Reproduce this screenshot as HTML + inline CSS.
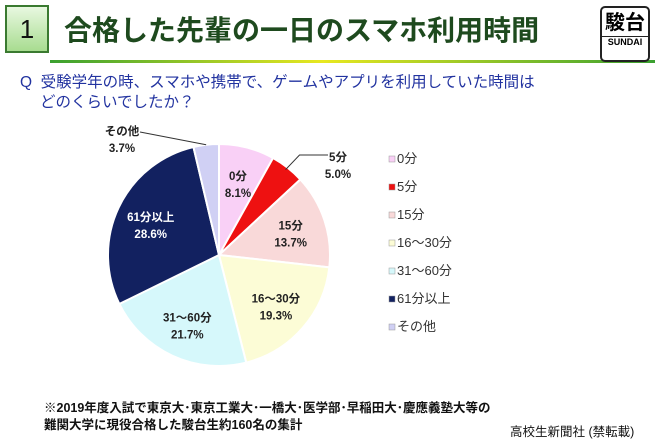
<!DOCTYPE html>
<html><head><meta charset="utf-8"><style>
body{margin:0;background:#fff;width:660px;height:444px;overflow:hidden;position:relative;font-family:"Liberation Sans","Noto Sans CJK JP",sans-serif}
.abs{position:absolute}
</style></head><body>
<div class="abs" style="left:5px;top:5px;width:44px;height:48px;background:linear-gradient(#e8f8e0,#a8dc90);border:2px solid #3a7a30;box-sizing:border-box;font-size:26px;text-align:center;line-height:44px;color:#111">1</div>
<div class="abs" style="left:64px;top:9px;font-size:28px;font-weight:bold;color:#1e4a1e;white-space:nowrap">合格した先輩の一日のスマホ利用時間</div>
<div class="abs" style="left:50px;top:60px;width:605px;height:3px;background:linear-gradient(90deg,#3aa030,#e8e820 45%,#3aa030)"></div>
<div class="abs" style="left:600px;top:6px;width:50px;height:56px;border:2px solid #222;border-radius:5px;box-sizing:border-box;text-align:center;background:#fff">
<div style="font-size:20px;font-weight:bold;line-height:26px;margin-top:2px">駿台</div>
<div style="font-size:9px;font-weight:bold;background:#fff;border-top:1px solid #222">SUNDAI</div></div>
<div class="abs" style="left:20px;top:73px;font-size:15.5px;color:#2233a0;line-height:20px;white-space:nowrap">Q&nbsp;&nbsp;受験学年の時、スマホや携帯で、ゲームやアプリを利用していた時間は<br><span style="padding-left:20px">どのくらいでしたか？</span></div>
<svg class="abs" style="left:0;top:0" width="660" height="444">
<g id="pie"></g><g id="labels"></g><g id="legend"></g>
</svg>
<div class="abs" style="left:44px;top:400px;font-size:12.5px;font-weight:bold;color:#111;line-height:17px;white-space:nowrap">※2019年度入試で東京大･東京工業大･一橋大･医学部･早稲田大･慶應義塾大等の<br>難関大学に現役合格した駿台生約160名の集計</div>
<div class="abs" style="left:510px;top:421px;font-size:12.5px;color:#111;white-space:nowrap">高校生新聞社 (禁転載)</div>
<script>
const categories=["0分","5分","15分","16～30分","31～60分","61分以上","その他"];
const values=[8.1,5.0,13.7,19.3,21.7,28.6,3.7];
const colors=["#f9d0f6","#ee1111","#f9d9d9","#fcfcd6","#d6f8fb","#122160","#d0d0f4"];
const NS="http://www.w3.org/2000/svg";
const cx=219,cy=255,r=111;
const total=values.reduce((a,b)=>a+b,0);
function pt(frac,rad){const a=frac*2*Math.PI-Math.PI/2;return [cx+rad*Math.cos(a),cy+rad*Math.sin(a)];}
const pie=document.getElementById('pie'),labels=document.getElementById('labels'),legend=document.getElementById('legend');
let acc=0;
values.forEach((v,i)=>{
 const s=acc/total,e=(acc+v)/total;acc+=v;
 const p1=pt(s,r),p2=pt(e,r);
 const path=document.createElementNS(NS,'path');
 path.setAttribute('d',`M${cx},${cy}L${p1[0]},${p1[1]}A${r},${r} 0 ${e-s>0.5?1:0} 1 ${p2[0]},${p2[1]}Z`);
 path.setAttribute('fill',colors[i]);path.setAttribute('stroke','#fff');path.setAttribute('stroke-width','2');
 
 
 pie.appendChild(path);
 const m=(s+e)/2;
 let lp,anchor='middle';
 if(i===1){lp=[338,163];} else if(i===6){lp=[122,137];}
 else lp=pt(m,r*0.68);
 if(i===1||i===6){
  const a=pt(m,r),ln=document.createElementNS(NS,'polyline');
  const pts=i===1?`${a[0]-2},${a[1]+2} ${a[0]+12},${lp[1]-8} ${lp[0]-10},${lp[1]-8}`:`${a[0]},${a[1]} ${lp[0]+18},${lp[1]-5}`;
  ln.setAttribute('points',pts);ln.setAttribute('fill','none');
  ln.setAttribute('stroke','#333');ln.setAttribute('stroke-width','1');
  
  
  labels.appendChild(ln);
 }
 const t=document.createElementNS(NS,'text');
 t.setAttribute('x',lp[0]);t.setAttribute('y',lp[1]);t.setAttribute('text-anchor',anchor);
 t.setAttribute('font-size','11.5');t.setAttribute('font-weight','bold');t.setAttribute('fill',i===5?'#fff':'#222');
 
 
 t.innerHTML=`<tspan x="${lp[0]}" dy="-2">${categories[i]}</tspan><tspan x="${lp[0]}" dy="17">${v.toFixed(1)}%</tspan>`;
 labels.appendChild(t);
 const ly=163+i*28;
 const sq=document.createElementNS(NS,'rect');
 sq.setAttribute('x',389);sq.setAttribute('y',ly-7);sq.setAttribute('width',6);sq.setAttribute('height',6);
 sq.setAttribute('fill',colors[i]);sq.setAttribute('stroke','#999');sq.setAttribute('stroke-width','0.5');
 
 
 legend.appendChild(sq);
 const lt=document.createElementNS(NS,'text');
 lt.setAttribute('x',397);lt.setAttribute('y',ly);lt.setAttribute('font-size','13');lt.setAttribute('fill','#333');
 
 
 lt.textContent=categories[i];
 legend.appendChild(lt);
});
</script>
</body></html>
